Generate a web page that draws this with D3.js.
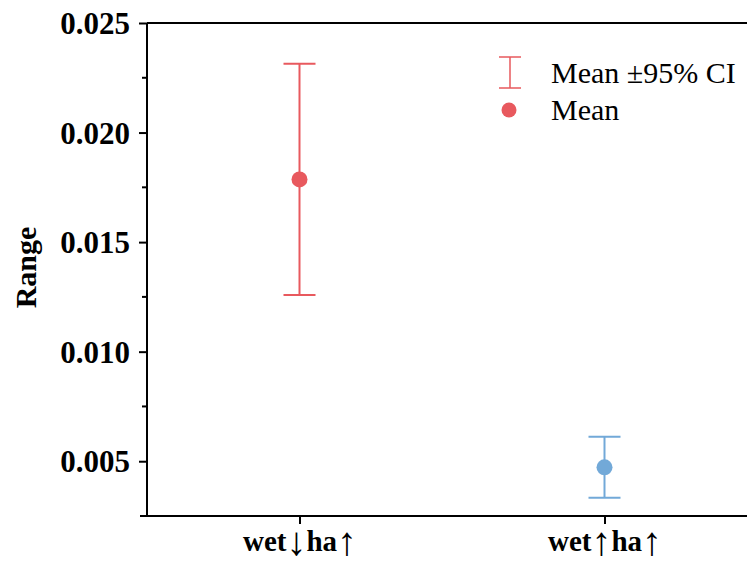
<!DOCTYPE html>
<html>
<head>
<meta charset="utf-8">
<script src="https://cdn.jsdelivr.net/npm/d3@7"></script>
<style>
  body { margin: 0; background: #fff; }
  svg { display: block; }
</style>
</head>
<body>
<div id="chart"></div>
<script>
// data
const categories = ['wet\u2193ha\u2191', 'wet\u2191ha\u2191'];
const means      = [0.01786, 0.00472];
const ciLower    = [0.01259, 0.00333];
const ciUpper    = [0.02314, 0.00612];
const colors     = ['#e8595e', '#72a9d8'];
const yTicks     = [0.005, 0.010, 0.015, 0.020, 0.025];
const yMinor     = [0.0075, 0.0125, 0.0175, 0.0225];

const width = 747, height = 565;
const margin = {top: 23, right: -10, bottom: 49, left: 147};
const plotW = width - margin.left - margin.right,
      plotH = height - margin.top - margin.bottom;

const svg = d3.select('#chart').append('svg')
    .attr('width', width).attr('height', height);
const g = svg.append('g')
    .attr('transform', `translate(${margin.left},${margin.top})`);

const x = d3.scalePoint().domain(categories).range([0, plotW]).padding(0.5);
const y = d3.scaleLinear().domain([0.0025, 0.025]).range([plotH, 0]);

const font = '"Liberation Serif", "Times New Roman", serif';

// frame lines (top + left + bottom)
g.append('line').attr('x1', 0).attr('x2', plotW).attr('y1', 0).attr('y2', 0)
    .attr('stroke', '#000').attr('stroke-width', 2);

const yAxis = g.append('g')
    .call(d3.axisLeft(y).tickValues(yTicks).tickFormat(d3.format('.3f')).tickSize(8).tickPadding(9));
yAxis.select('.domain').attr('stroke-width', 2).attr('d', `M0,0V${plotH}`);
yAxis.selectAll('.tick line').attr('stroke-width', 2);
yAxis.selectAll('text')
    .attr('font-family', font).attr('font-weight', 'bold')
    .attr('font-size', 31).attr('fill', '#000')
    .attr('dy', '0.34em');
g.append('g').selectAll('line').data(yMinor).join('line')
    .attr('x1', -5).attr('x2', 0)
    .attr('y1', d => y(d)).attr('y2', d => y(d))
    .attr('stroke', '#000').attr('stroke-width', 2);

const xAxis = g.append('g').attr('transform', `translate(0,${plotH})`)
    .call(d3.axisBottom(x).tickSize(8));
xAxis.select('.domain').attr('stroke-width', 2).attr('d', `M-7,0H${plotW}`);
xAxis.selectAll('.tick line').attr('stroke-width', 2);
xAxis.selectAll('text')
    .attr('font-family', font).attr('font-weight', 'bold')
    .attr('font-size', 29).attr('fill', '#000')
    .attr('y', 35).attr('dy', null)
    .text(null)
    .each(function (d) {
        const t = d3.select(this);
        // arrows in the original are tall and thin: draw them bigger, a bit lower
        let shifted = false;
        d.split(/([\u2191\u2193])/).filter(s => s).forEach(s => {
            const arrow = /[\u2191\u2193]/.test(s);
            t.append('tspan')
                .attr('font-size', arrow ? 40 : null)
                .attr('font-weight', arrow ? 'normal' : null)
                .attr('dy', arrow ? 4 : (shifted ? -4 : 0))
                .text(s);
            shifted = arrow;
        });
    });

svg.append('text')
    .attr('transform', `translate(36,${margin.top + plotH / 2 - 2}) rotate(-90)`)
    .attr('text-anchor', 'middle')
    .attr('font-family', font).attr('font-weight', 'bold').attr('font-size', 30)
    .text('Range');

// error bars
const capW = 16;
const bars = g.selectAll('.bar').data(categories).join('g')
    .attr('stroke', (d, i) => colors[i]).attr('stroke-width', 2);
bars.append('line')
    .attr('x1', d => x(d)).attr('x2', d => x(d))
    .attr('y1', (d, i) => y(ciUpper[i])).attr('y2', (d, i) => y(ciLower[i]));
bars.append('line')
    .attr('x1', d => x(d) - capW).attr('x2', d => x(d) + capW)
    .attr('y1', (d, i) => y(ciUpper[i])).attr('y2', (d, i) => y(ciUpper[i]));
bars.append('line')
    .attr('x1', d => x(d) - capW).attr('x2', d => x(d) + capW)
    .attr('y1', (d, i) => y(ciLower[i])).attr('y2', (d, i) => y(ciLower[i]));
g.selectAll('.dot').data(categories).join('circle')
    .attr('cx', d => x(d)).attr('cy', (d, i) => y(means[i]))
    .attr('r', 8).attr('fill', (d, i) => colors[i]);

// legend
const lg = svg.append('g').attr('transform', 'translate(510,0)');
lg.append('path').attr('d', 'M-11,57H11M0,57V88M-11,88H11')
    .attr('stroke', colors[0]).attr('stroke-width', 1.5).attr('fill', 'none');
lg.append('circle').attr('cx', -1).attr('cy', 110).attr('r', 7.5).attr('fill', colors[0]);
lg.append('text').attr('x', 41).attr('y', 83)
    .attr('font-family', font).attr('font-size', 30).text('Mean \u00b195% CI');
lg.append('text').attr('x', 41).attr('y', 120)
    .attr('font-family', font).attr('font-size', 30).text('Mean');
</script>
</body>
</html>
